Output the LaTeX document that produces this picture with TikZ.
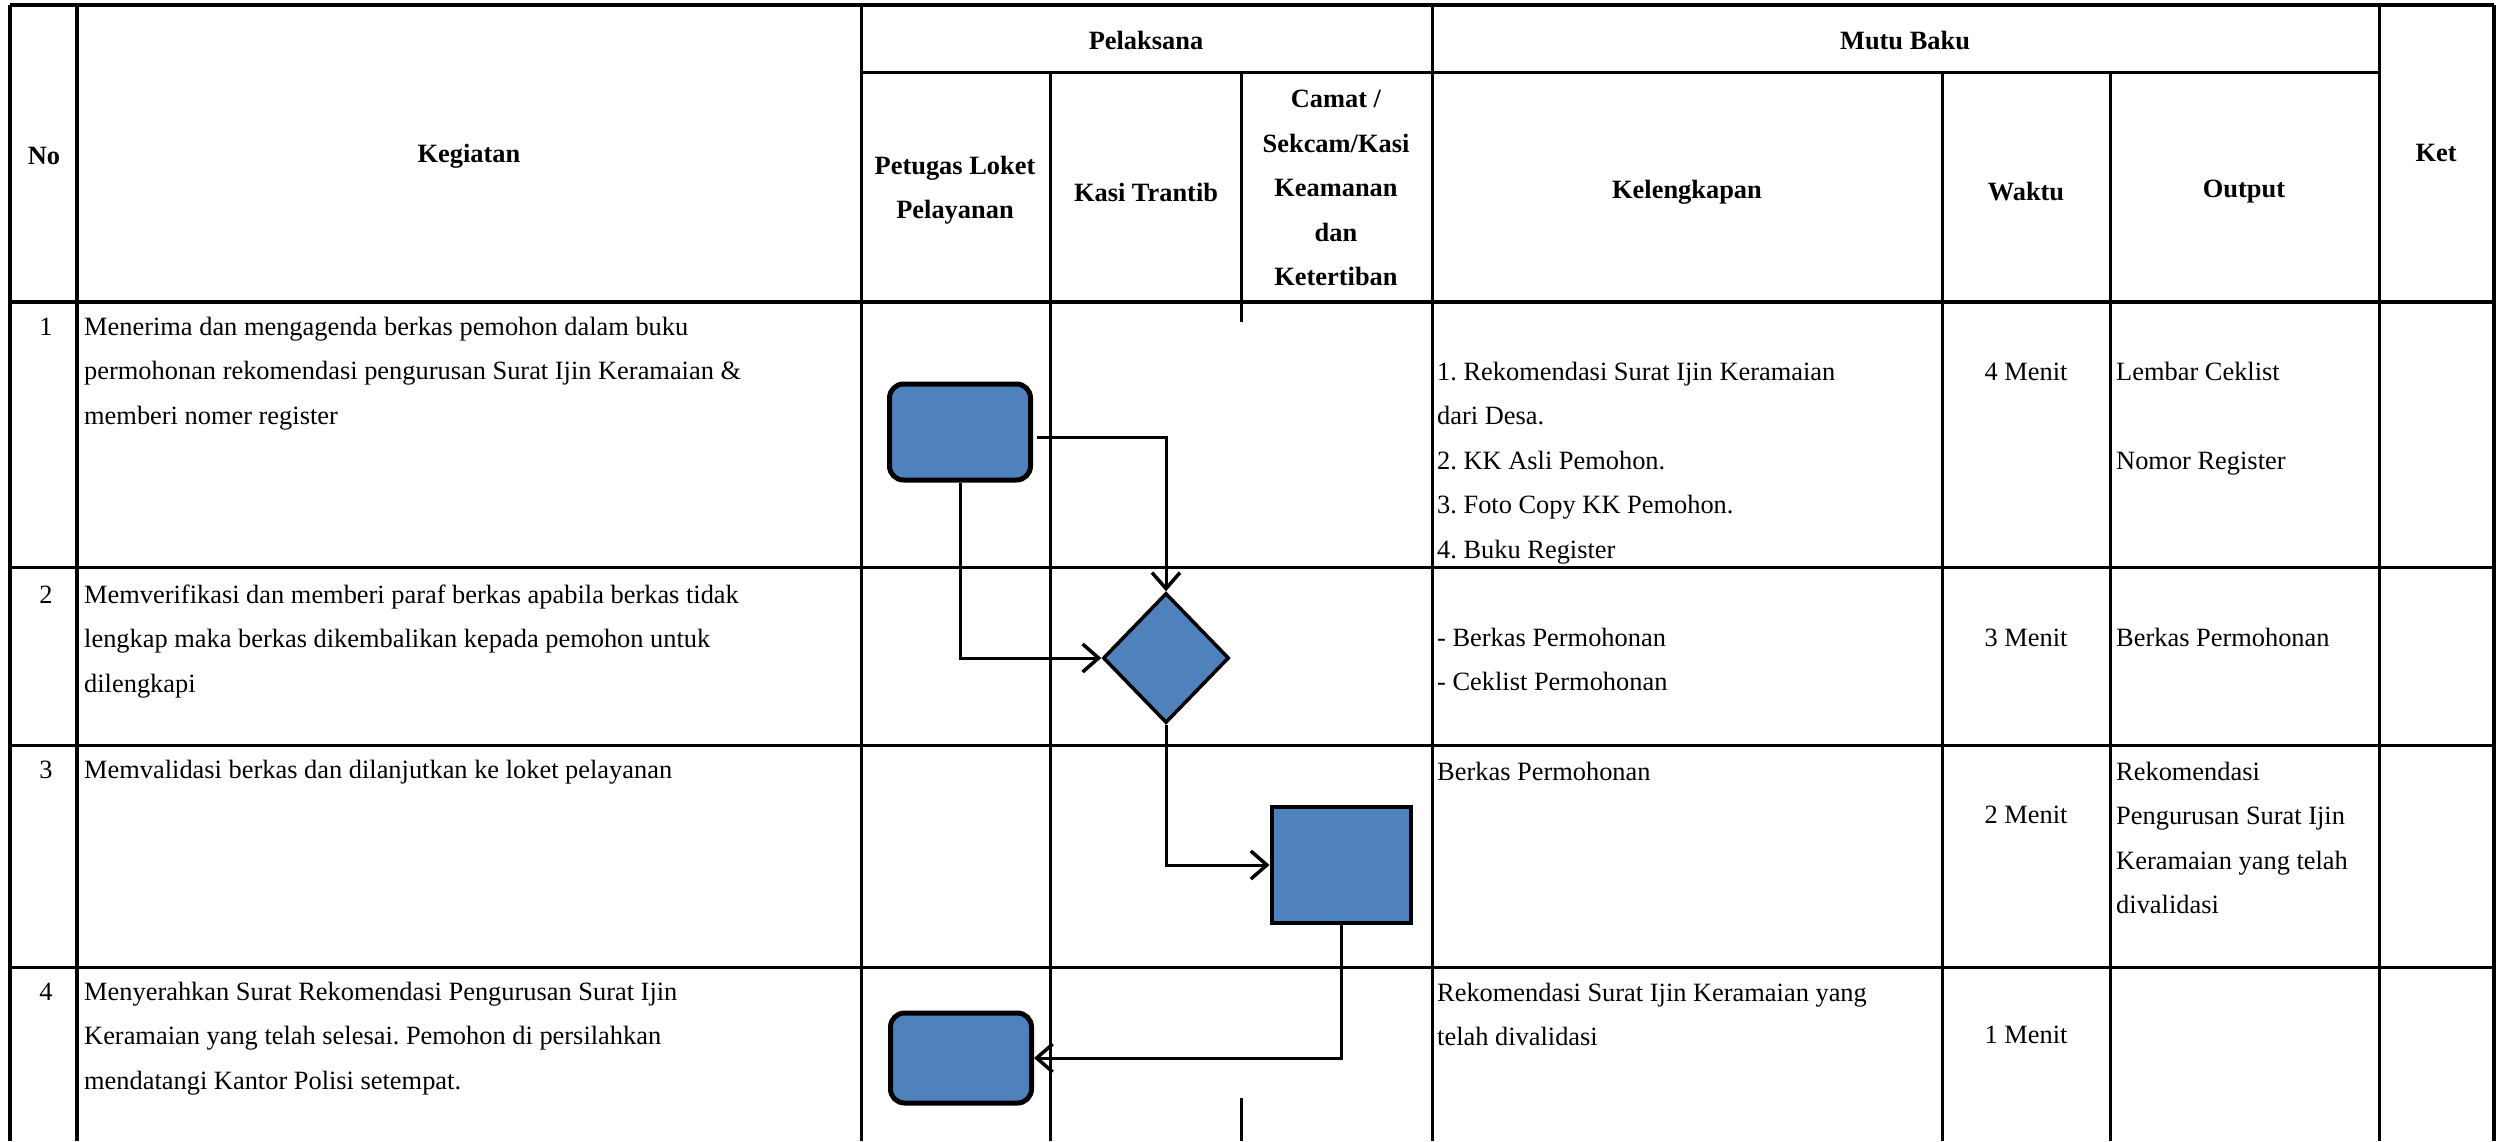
\documentclass[tikz,border=0pt]{standalone}
\usepackage{fontspec}
\setmainfont{Liberation Serif}
\usetikzlibrary{shapes.geometric,arrows.meta}
\definecolor{boxblue}{HTML}{4F81BD}
\frenchspacing
\tikzset{
  heavy/.style={line width=4pt},
  thin/.style={line width=3pt},
  body/.style={anchor=base west, inner sep=0pt, align=left, font=\fontsize{26.4}{44.5}\selectfont},
  bodyc/.style={anchor=base, inner sep=0pt, align=center, font=\fontsize{26.4}{44.5}\selectfont},
  head/.style={anchor=center, inner sep=0pt, align=center, font=\bfseries\fontsize{26.4}{44.5}\selectfont},
  rbox/.style={draw, line width=5pt, fill=boxblue, rounded corners=14pt, rectangle, inner sep=0pt},
  sbox/.style={draw, line width=4pt, fill=boxblue, rectangle, inner sep=0pt},
  dbox/.style={draw, line width=3.5pt, fill=boxblue, diamond, inner sep=0pt, aspect=1},
  flow/.style={line width=3pt, -{Straight Barb[length=16pt,width=28pt,line width=3.5pt]}}
}
\begin{document}
\begin{tikzpicture}[x=1pt,y=-1pt]
\useasboundingbox (0,0) rectangle (2500,1141);
\fill[white] (0,0) rectangle (2500,1141);
% ---- grid ----
% horizontal lines
\draw[heavy] (10,5) -- (2494,5);
\draw[thin] (861,72) -- (2379,72);
\draw[heavy] (10,302) -- (2494,302);
\draw[thin] (10,567) -- (2494,567);
\draw[thin] (10,745) -- (2494,745);
\draw[thin] (10,967) -- (2494,967);
% vertical lines
\draw[heavy] (10,5) -- (10,1141);
\draw[heavy] (77,5) -- (77,1141);
\draw[thin] (861,5) -- (861,1141);
\draw[thin] (1050,72) -- (1050,1141);
\draw[thin] (1241,72) -- (1241,322);
\draw[thin] (1241,1098) -- (1241,1141);
\draw[thin] (1432,5) -- (1432,1141);
\draw[thin] (1942,72) -- (1942,1141);
\draw[thin] (2110,72) -- (2110,1141);
\draw[thin] (2379,5) -- (2379,1141);
\draw[heavy] (2494,5) -- (2494,1141);
% ---- headers ----
\node[head] (hNo) at (44,156) {No};
\node[head] (hKeg) at (469,156) {Kegiatan};
\node[head] (hPel) at (1146,40) {Pelaksana};
\node[head] (hMutu) at (1905,40) {Mutu Baku};
\node[head] (hKet) at (2436,153) {Ket};
\node[head] (hPet) at (955,190) {Petugas Loket\\Pelayanan};
\node[head] (hKasi) at (1146,192) {Kasi Trantib};
\node[head] (hCamat) at (1336,188) {Camat /\\Sekcam/Kasi\\Keamanan\\dan\\Ketertiban};
\node[head] (hKel) at (1687,192) {Kelengkapan};
\node[head] (hWak) at (2026,192) {Waktu};
\node[head] (hOut) at (2244,192) {Output};
% ---- row 1 ----  (multi-line nodes are placed by the baseline of their LAST line)
\node[bodyc] (n1) at (46,335) {1};
\node[body] (k1) at (84,424) {Menerima dan mengagenda berkas pemohon dalam buku\\permohonan rekomendasi pengurusan Surat Ijin Keramaian \&\\memberi nomer register};
\node[body] (l1) at (1437,558) {1. Rekomendasi Surat Ijin Keramaian\\dari Desa.\\2. KK Asli Pemohon.\\3. Foto Copy KK Pemohon.\\4. Buku Register};
\node[bodyc] (w1) at (2026,380) {4 Menit};
\node[body] (o1) at (2116,469) {Lembar Ceklist\\[44.5pt]Nomor Register};
% ---- row 2 ----
\node[bodyc] (n2) at (46,603) {2};
\node[body] (k2) at (84,692) {Memverifikasi dan memberi paraf berkas apabila berkas tidak\\lengkap maka berkas dikembalikan kepada pemohon untuk\\dilengkapi};
\node[body] (l2) at (1437,690.5) {- Berkas Permohonan\\- Ceklist Permohonan};
\node[bodyc] (w2) at (2026,646) {3 Menit};
\node[body] (o2) at (2116,646) {Berkas Permohonan};
% ---- row 3 ----
\node[bodyc] (n3) at (46,778) {3};
\node[body] (k3) at (84,778) {Memvalidasi berkas dan dilanjutkan ke loket pelayanan};
\node[body] (l3) at (1437,780) {Berkas Permohonan};
\node[bodyc] (w3) at (2026,823) {2 Menit};
\node[body] (o3) at (2116,913.5) {Rekomendasi\\Pengurusan Surat Ijin\\Keramaian yang telah\\divalidasi};
% ---- row 4 ----
\node[bodyc] (n4) at (46,1000) {4};
\node[body] (k4) at (84,1089) {Menyerahkan Surat Rekomendasi Pengurusan Surat Ijin\\Keramaian yang telah selesai. Pemohon di persilahkan\\mendatangi Kantor Polisi setempat.};
\node[body] (l4) at (1437,1045.5) {Rekomendasi Surat Ijin Keramaian yang\\telah divalidasi};
\node[bodyc] (w4) at (2026,1043) {1 Menit};
% ---- flow shapes ----
\node[rbox, minimum width=141pt, minimum height=96pt] (r1) at (960,432) {};
\node[dbox, minimum width=126pt, minimum height=130pt] (d2) at (1166,658) {};
\node[sbox, minimum width=139pt, minimum height=116pt] (s3) at (1341,865) {};
\node[rbox, minimum width=141pt, minimum height=90pt] (r4) at (961,1058) {};
% ---- connectors ----
\draw[flow] ([xshift=4pt,yshift=-5pt]r1.east) -| (d2.north);
\draw[flow] (r1.south) |- (d2.west);
\draw[flow] (d2.south) |- (s3.west);
\draw[flow] (s3.south) |- (r4.east);
\end{tikzpicture}
\end{document}
